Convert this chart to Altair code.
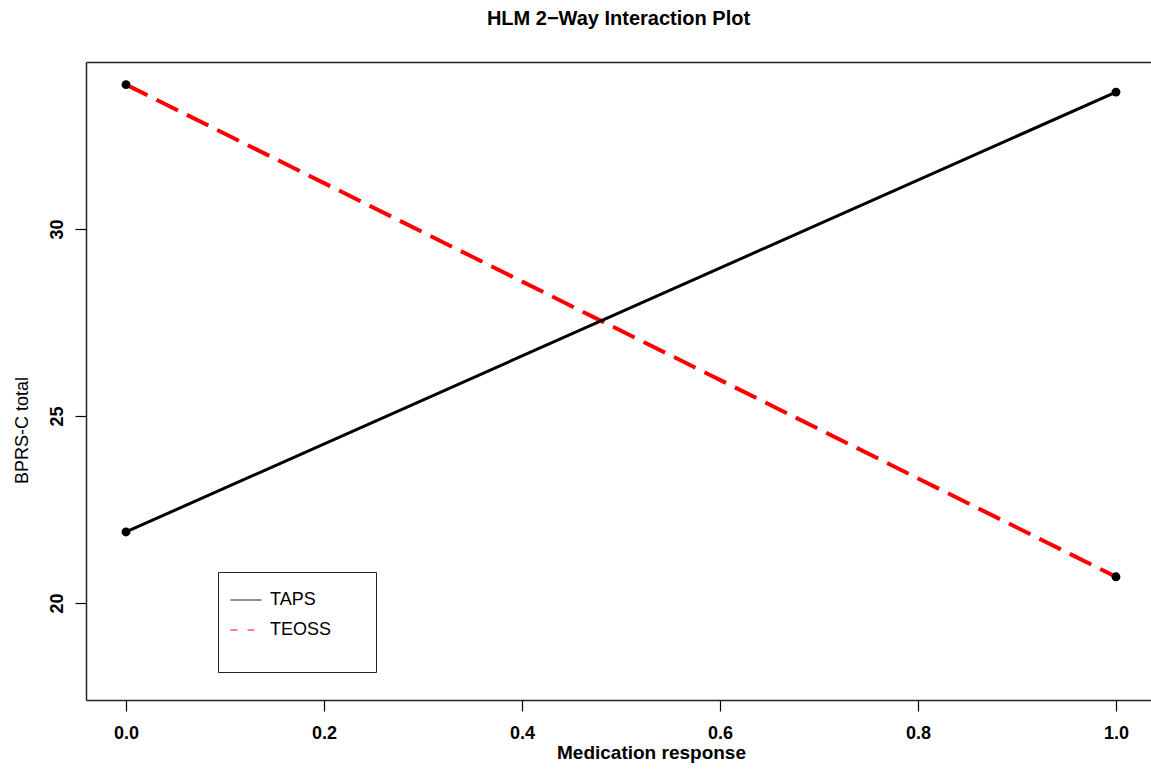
import altair as alt
import pandas as pd

# ---- data ----
x_vals = [0.0, 1.0]
series_names = ["TAPS", "TEOSS"]
taps_y = [21.90, 33.66]
teoss_y = [33.86, 20.70]
x_ticks = [0.0, 0.2, 0.4, 0.6, 0.8, 1.0]
y_ticks = [20, 25, 30]

rows = []
for name, ys in zip(series_names, [taps_y, teoss_y]):
    for xv, yv in zip(x_vals, ys):
        rows.append({"series": name, "x": xv, "y": yv})
df = pd.DataFrame(rows)

W, H = 1065, 638
FONT = "Liberation Sans"

xscale = alt.Scale(domain=[-0.0404, 1.0354], nice=False, zero=False)
yscale = alt.Scale(domain=[17.406, 34.465], nice=False, zero=False)

x_axis = alt.Axis(values=x_ticks, format=".1f", title="Medication response",
                  titleX=565, titleY=52, titleBaseline="middle", titleAlign="center",
                  titleFontWeight="bold", titleFontSize=19)
y_axis = alt.Axis(values=y_ticks, format="d", title="BPRS-C total",
                  labelAngle=270, labelAlign="center", labelBaseline="bottom",
                  titleX=-64, titleY=368, titleAngle=270, titleAlign="center",
                  titleBaseline="middle", titleFontWeight="normal", titleFontSize=18)

base = alt.Chart(df)

red_line = base.transform_filter(alt.datum.series == "TEOSS").mark_line(
    strokeCap="butt", strokeWidth=4, strokeDash=[24, 10], color="red").encode(
    x=alt.X("x:Q", scale=xscale, axis=x_axis),
    y=alt.Y("y:Q", scale=yscale, axis=y_axis),
)
black_line = base.transform_filter(alt.datum.series == "TAPS").mark_line(
    strokeCap="butt", strokeWidth=3, color="black").encode(
    x=alt.X("x:Q", scale=xscale, axis=None),
    y=alt.Y("y:Q", scale=yscale, axis=y_axis),
)
points = base.mark_point(filled=True, size=80, opacity=1, shape="circle").encode(
    x=alt.X("x:Q", scale=xscale,
            axis=alt.Axis(orient="top", labels=False, ticks=False, title=None,
                          domain=True, grid=False)),
    y=alt.Y("y:Q", scale=yscale, axis=y_axis),
    color=alt.value("black"),
)
# legend carrier: one point per series -> a line with a single vertex draws nothing
# (the legend's bottom "title" is a white spacer that gives the box R's size)
legend_layer = base.transform_filter(alt.datum.x == 0).mark_line(strokeWidth=1).encode(
    x=alt.X("x:Q", scale=xscale, axis=None),
    y=alt.Y("y:Q", scale=yscale, axis=y_axis),
    color=alt.Color("series:N",
                    scale=alt.Scale(domain=series_names, range=["black", "red"]),
                    legend=alt.Legend(orient="none", legendX=132, legendY=510,
                                      title="_" * 20, titleOrient="bottom",
                                      titleColor="white", titleFont=FONT,
                                      titleFontWeight="normal",
                                      titleFontSize=12, titlePadding=10,
                                      symbolType="stroke", symbolSize=961,
                                      symbolStrokeWidth=1,
                                      symbolDash={"expr": "datum.value === 'TEOSS' ? [7, 10] : [1, 0]"},
                                      labelOffset=8,
                                      labelFontSize=18, labelFont=FONT, labelColor="black",
                                      rowPadding=5, padding=12,
                                      strokeColor="#222222", fillColor="white")),
)

chart = alt.layer(red_line, black_line, points, legend_layer).resolve_axis(x="independent").properties(
    width=W, height=H,
    title=alt.TitleParams("HLM 2\u2212Way Interaction Plot", anchor="middle",
                          fontSize=20, fontWeight="bold", font=FONT, color="black",
                          offset=33),
    padding={"left": 86, "top": 62, "right": 0, "bottom": 69},
    autosize=alt.AutoSizeParams(type="none"),
).configure_view(stroke=None).configure_axis(
    grid=False, domainColor="#222222", domainWidth=1.5, tickColor="black", tickWidth=1.2,
    tickSize=11, labelFont=FONT, labelFontSize=18, labelFontWeight="bold",
    labelColor="black", titleFont=FONT, titleColor="black", labelFlush=False,
    labelOverlap=False,
).configure_axisBottom(labelPadding=13).configure_axisLeft(labelPadding=9)

chart.save("out.html", embed_options={"renderer": "svg", "actions": False})
